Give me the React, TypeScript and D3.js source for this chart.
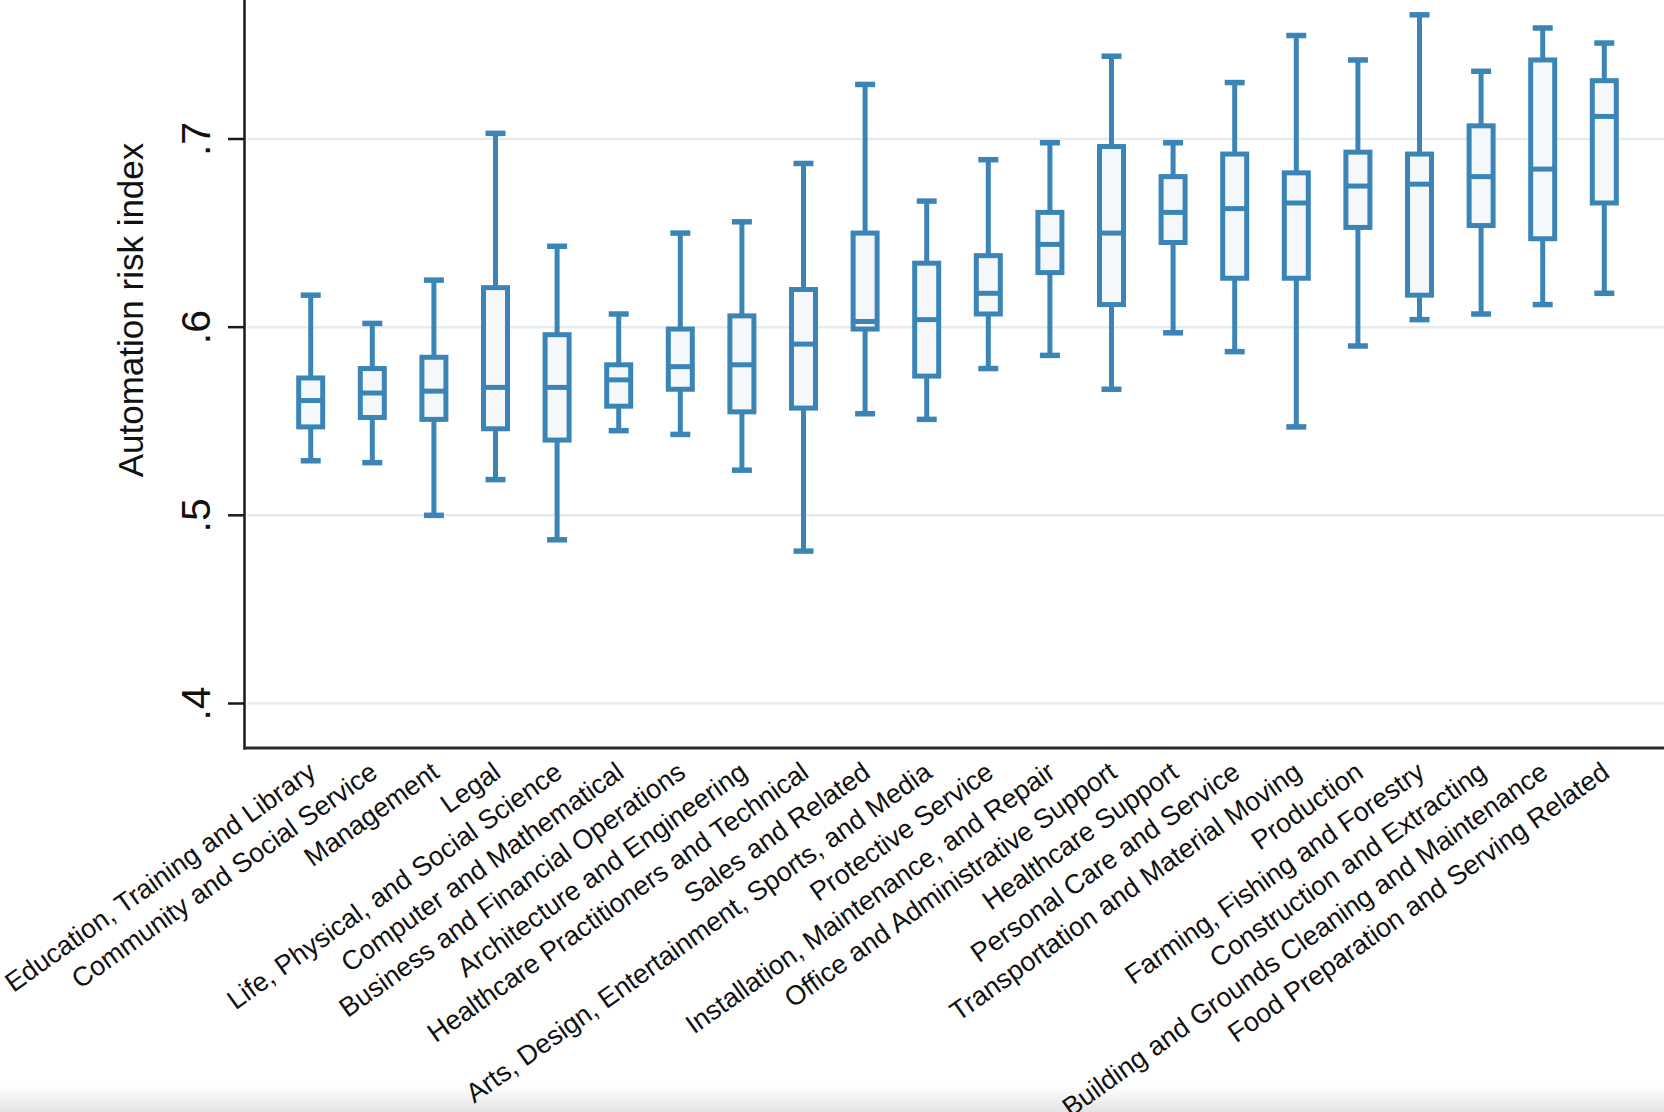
import React, { useEffect, useRef } from "react";
import * as d3 from "d3";

const categories = [
  "Education, Training and Library",
  "Community and Social Service",
  "Management",
  "Legal",
  "Life, Physical, and Social Science",
  "Computer and Mathematical",
  "Business and Financial Operations",
  "Architecture and Engineering",
  "Healthcare Practitioners and Technical",
  "Sales and Related",
  "Arts, Design, Entertainment, Sports, and Media",
  "Protective Service",
  "Installation, Maintenance, and Repair",
  "Office and Administrative Support",
  "Healthcare Support",
  "Personal Care and Service",
  "Transportation and Material Moving",
  "Production",
  "Farming, Fishing and Forestry",
  "Construction and Extracting",
  "Building and Grounds Cleaning and Maintenance",
  "Food Preparation and Serving Related",
];

// box plot statistics
const whiskerHigh = [0.617, 0.602, 0.625, 0.703, 0.643, 0.607, 0.65, 0.656, 0.687, 0.729, 0.667, 0.689, 0.698, 0.744, 0.698, 0.73, 0.755, 0.742, 0.766, 0.736, 0.759, 0.751];
const q3 = [0.573, 0.578, 0.584, 0.621, 0.596, 0.58, 0.599, 0.606, 0.62, 0.65, 0.634, 0.638, 0.661, 0.696, 0.68, 0.692, 0.682, 0.693, 0.692, 0.707, 0.742, 0.731];
const median = [0.561, 0.565, 0.566, 0.568, 0.568, 0.572, 0.579, 0.58, 0.591, 0.603, 0.604, 0.618, 0.644, 0.65, 0.661, 0.663, 0.666, 0.675, 0.676, 0.68, 0.684, 0.712];
const q1 = [0.547, 0.552, 0.551, 0.546, 0.54, 0.558, 0.567, 0.555, 0.557, 0.599, 0.574, 0.607, 0.629, 0.612, 0.645, 0.626, 0.626, 0.653, 0.617, 0.654, 0.647, 0.666];
const whiskerLow = [0.529, 0.528, 0.5, 0.519, 0.487, 0.545, 0.543, 0.524, 0.481, 0.554, 0.551, 0.578, 0.585, 0.567, 0.597, 0.587, 0.547, 0.59, 0.604, 0.607, 0.612, 0.618];

const yTicks = [0.4, 0.5, 0.6, 0.7];
const yTickLabels = [".4", ".5", ".6", ".7"];

const App: React.FC = () => {
  const svgRef = useRef<SVGSVGElement>(null);
  const width = 1664;
  const height = 1112;

  useEffect(() => {
    if (!svgRef.current) return;
    const svg = d3.select(svgRef.current);
    svg.selectAll("*").remove();

    const axisX = 244.5;
    const axisY = 748;
    const blue = "#3a85b6";
    const font = "Arial, 'Liberation Sans', Helvetica, sans-serif";

    const y = d3.scaleLinear().domain([0.4, 0.7]).range([703.5, 139]);
    const x = d3.scalePoint<string>().domain(categories).range([310.7, 1604.3]);

    // bottom shadow like the screenshot
    const defs = svg.append("defs");
    const grad = defs
      .append("linearGradient")
      .attr("id", "bottom-shade")
      .attr("x1", "0")
      .attr("y1", "0")
      .attr("x2", "0")
      .attr("y2", "1");
    grad.append("stop").attr("offset", "0%").attr("stop-color", "#ffffff");
    grad.append("stop").attr("offset", "100%").attr("stop-color", "#e4e4e4");

    svg.append("rect").attr("width", width).attr("height", height).attr("fill", "#ffffff");
    svg
      .append("rect")
      .attr("x", 0)
      .attr("y", 1086)
      .attr("width", width)
      .attr("height", height - 1086)
      .attr("fill", "url(#bottom-shade)");

    // gridlines
    svg
      .append("g")
      .selectAll("line")
      .data(yTicks)
      .enter()
      .append("line")
      .attr("x1", axisX + 3)
      .attr("x2", width)
      .attr("y1", (d) => y(d))
      .attr("y2", (d) => y(d))
      .attr("stroke", "#e4ecf0")
      .attr("stroke-width", 2.5);

    // boxes
    const g = svg
      .append("g")
      .selectAll("g")
      .data(categories)
      .enter()
      .append("g")
      .attr("transform", (d) => `translate(${x(d)},0)`);

    const boxW = 24;
    const capW = 20;

    g.append("line")
      .attr("x1", 0)
      .attr("x2", 0)
      .attr("y1", (d, i) => y(whiskerHigh[i]))
      .attr("y2", (d, i) => y(q3[i]))
      .attr("stroke", blue)
      .attr("stroke-width", 5);

    g.append("line")
      .attr("x1", 0)
      .attr("x2", 0)
      .attr("y1", (d, i) => y(q1[i]))
      .attr("y2", (d, i) => y(whiskerLow[i]))
      .attr("stroke", blue)
      .attr("stroke-width", 5);

    g.append("line")
      .attr("x1", -capW / 2)
      .attr("x2", capW / 2)
      .attr("y1", (d, i) => y(whiskerHigh[i]))
      .attr("y2", (d, i) => y(whiskerHigh[i]))
      .attr("stroke", blue)
      .attr("stroke-width", 5.5);

    g.append("line")
      .attr("x1", -capW / 2)
      .attr("x2", capW / 2)
      .attr("y1", (d, i) => y(whiskerLow[i]))
      .attr("y2", (d, i) => y(whiskerLow[i]))
      .attr("stroke", blue)
      .attr("stroke-width", 5.5);

    g.append("rect")
      .attr("x", -boxW / 2)
      .attr("width", boxW)
      .attr("y", (d, i) => y(q3[i]))
      .attr("height", (d, i) => y(q1[i]) - y(q3[i]))
      .attr("fill", "#f5f8fb")
      .attr("stroke", blue)
      .attr("stroke-width", 5);

    g.append("line")
      .attr("x1", -boxW / 2)
      .attr("x2", boxW / 2)
      .attr("y1", (d, i) => y(median[i]))
      .attr("y2", (d, i) => y(median[i]))
      .attr("stroke", blue)
      .attr("stroke-width", 5);

    // y axis
    svg
      .append("line")
      .attr("x1", axisX)
      .attr("x2", axisX)
      .attr("y1", 0)
      .attr("y2", axisY + 1.5)
      .attr("stroke", "#1a1a1a")
      .attr("stroke-width", 2.5);

    svg
      .append("g")
      .selectAll("line")
      .data(yTicks)
      .enter()
      .append("line")
      .attr("x1", 228)
      .attr("x2", axisX)
      .attr("y1", (d) => y(d))
      .attr("y2", (d) => y(d))
      .attr("stroke", "#1a1a1a")
      .attr("stroke-width", 2.5);

    svg
      .append("g")
      .selectAll("text")
      .data(yTicks)
      .enter()
      .append("text")
      .attr("transform", (d) => `translate(210,${y(d)}) rotate(-90)`)
      .attr("text-anchor", "middle")
      .style("font-family", font)
      .style("font-size", "41px")
      .style("fill", "#111")
      .text((d, i) => yTickLabels[i]);

    svg
      .append("text")
      .attr("transform", "translate(143,310) rotate(-90)")
      .attr("text-anchor", "middle")
      .style("font-family", font)
      .style("font-size", "35px")
      .style("fill", "#111")
      .text("Automation risk index");

    // x axis
    svg
      .append("line")
      .attr("x1", axisX - 1)
      .attr("x2", width)
      .attr("y1", axisY)
      .attr("y2", axisY)
      .attr("stroke", "#2a2a2a")
      .attr("stroke-width", 3);

    svg
      .append("g")
      .selectAll("text")
      .data(categories)
      .enter()
      .append("text")
      .attr("transform", (d) => `translate(${(x(d) as number) + 7},776) rotate(-35.5)`)
      .attr("text-anchor", "end")
      .style("font-family", font)
      .style("font-size", "27px")
      .style("fill", "#111")
      .text((d) => d);
  }, []);

  return (
    <svg
      ref={svgRef}
      width={width}
      height={height}
      viewBox={`0 0 ${width} ${height}`}
      style={{ position: "absolute", left: 0, top: 0, background: "#fff" }}
    />
  );
};

export default App;
